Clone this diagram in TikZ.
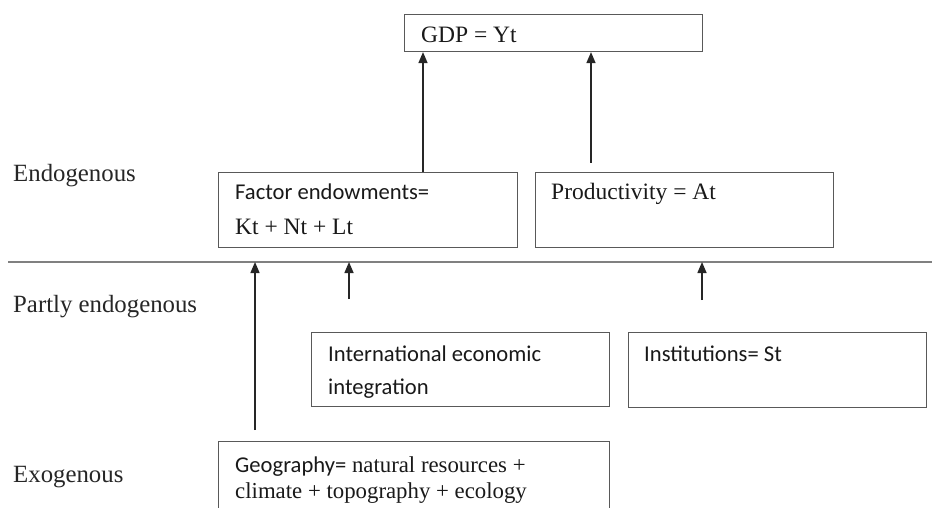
\documentclass[tikz,border=0pt]{standalone}
\usepackage{fontspec}
\setmainfont{Liberation Serif}
\newfontfamily\calibfam{Carlito}
\newcommand{\cb}[1]{{\calibfam\fontsize{22.6}{28}\selectfont #1}}
\usetikzlibrary{arrows.meta}
\begin{document}
\begin{tikzpicture}[x=1pt,y=-1pt,
  box/.style={draw=black!65, line width=1.1pt, rectangle, inner sep=0pt, anchor=north west},
  txt/.style={anchor=base west, inner sep=0pt, font=\fontsize{23.5}{28}\selectfont, text=black!90},
  lbl/.style={anchor=base west, inner sep=0pt, font=\fontsize{24.8}{28}\selectfont, text=black!85},
  arr/.style={draw=black!85, line width=1.5pt, -{Triangle[width=9pt,length=11pt]}},
  sep/.style={draw=black!50, line width=1.4pt}]
\useasboundingbox (0,0) rectangle (932,508);
\clip (0,0) rectangle (932,508);

% boxes
\node[box, minimum width=298pt, minimum height=37pt] (gdp) at (404,14) {};
\node[box, minimum width=299pt, minimum height=75pt] (fac) at (218,172) {};
\node[box, minimum width=298pt, minimum height=75pt] (prod) at (535,172) {};
\node[box, minimum width=298pt, minimum height=74pt] (intl) at (311,332) {};
\node[box, minimum width=298pt, minimum height=75pt] (inst) at (628,332) {};
\node[box, minimum width=391pt, minimum height=85pt] (geo) at (218,441) {};

% texts
\node[txt] (tgdp) at (421,43) {GDP = Yt};
\node[txt] (tfac1) at (235,200) {\cb{Factor endowments=}};
\node[txt] (tfac2) at (235,234) {Kt + Nt + Lt};
\node[txt] (tprod) at (551,200) {Productivity = At};
\node[txt] (tint1) at (328,361) {\cb{International economic}};
\node[txt] (tint2) at (328,394) {\cb{integration}};
\node[txt] (tinst) at (644,361) {\cb{Institutions= St}};
\node[txt, font=\fontsize{22.8}{28}\selectfont] (tgeo1) at (235,472) {\cb{Geography=} natural resources +};
\node[txt, font=\fontsize{22.8}{28}\selectfont] (tgeo2) at (235,498) {climate + topography + ecology};

% level labels
\node[lbl] (lend) at (13,182) {Endogenous};
\node[lbl] (lpart) at (13,312) {Partly endogenous};
\node[lbl] (lexo) at (13,482) {Exogenous};

% separator
\coordinate (L) at (8,262);
\coordinate (R) at (932,262);
\draw[sep] (L) -- (R);

% arrows
\coordinate (a1) at ([xshift=205pt]fac.north west);
\draw[arr] (a1) -- (a1 |- gdp.south);
\coordinate (a2) at ([xshift=56pt,yshift=9pt]prod.north west);
\draw[arr] (a2) -- (a2 |- gdp.south);
\coordinate (a3) at ([xshift=37pt,yshift=11pt]geo.north west);
\draw[arr] (a3) -- (a3 |- L);
\coordinate (a4) at ([xshift=38pt,yshift=33pt]intl.north west);
\draw[arr] (a4) -- (a4 |- L);
\coordinate (a5) at ([xshift=74pt,yshift=32pt]inst.north west);
\draw[arr] (a5) -- (a5 |- L);
\end{tikzpicture}
\end{document}
